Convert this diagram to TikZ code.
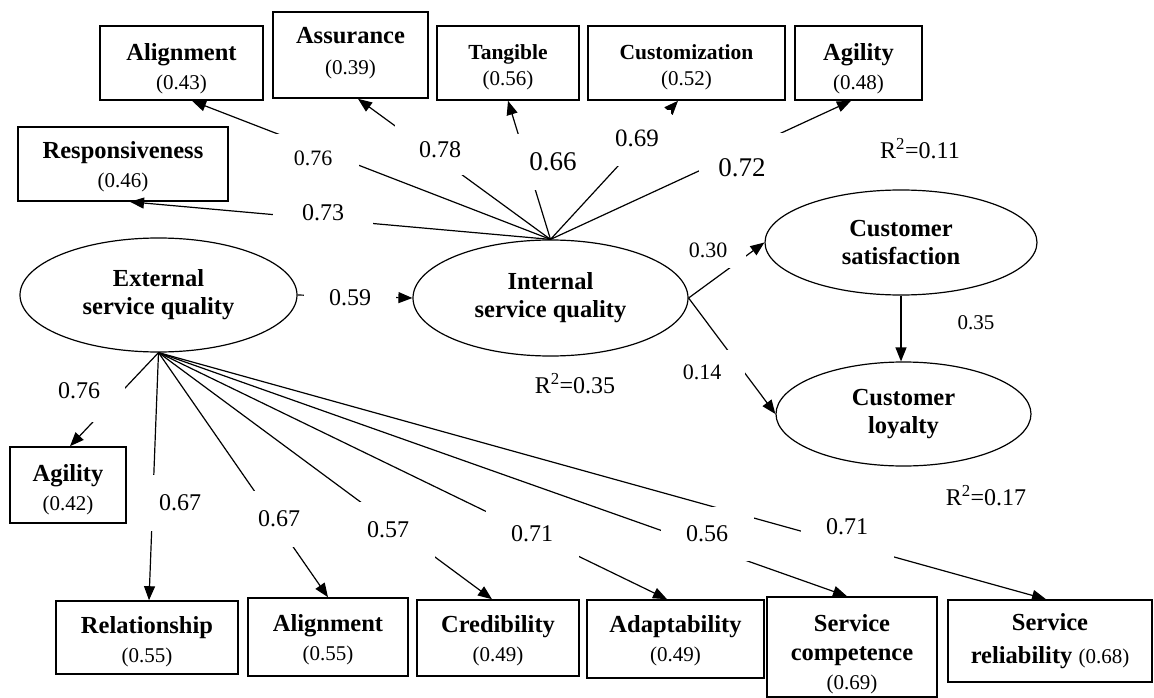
\documentclass[tikz,border=0pt]{standalone}
\usepackage{fontspec}
\setmainfont{Liberation Serif}
\usetikzlibrary{arrows.meta,shapes.geometric}
\newcommand{\pv}[1]{{\fontseries{m}\fontsize{21}{29}\selectfont #1}}
\newcommand{\tp}[1]{\rule{0pt}{#1pt}}
\newcommand{\bt}[1]{\rule[-#1pt]{0pt}{#1pt}}
\begin{document}
\begin{tikzpicture}[x=1pt,y=-1pt,
  ind/.style={draw, line width=1.6pt, inner sep=0pt, align=center, fill=white,
    font=\fontsize{24.5}{29}\selectfont\bfseries},
  indsm/.style={ind, font=\fontsize{21.5}{26}\selectfont\bfseries},
  lat/.style={draw, ellipse, line width=1.2pt, inner sep=0pt, align=center, fill=white,
    font=\fontsize{24.5}{28}\selectfont\bfseries},
  lbl/.style={fill=white, inner sep=0pt, font=\fontsize{24}{28}\selectfont},
  rsq/.style={inner sep=0pt, font=\fontsize{24}{28}\selectfont},
  arr/.style={line width=1.2pt, -{Triangle[length=14pt,width=11pt]}}]
\useasboundingbox (0,0) rectangle (1154,698);
\fill[white] (0,0) rectangle (1154,698);

% latent variables
\node[lat, minimum width=277pt, minimum height=114pt] (ext) at (158.5,295) {External\\service quality};
\node[lat, minimum width=275pt, minimum height=116pt] (int) at (550.5,298) {Internal\\service quality};
\node[lat, minimum width=272pt, minimum height=105pt] (sat) at (901,242.5) {Customer\\satisfaction};
\node[lat, minimum width=255pt, minimum height=104pt] (loy) at (903.5,414) {Customer\\loyalty};

% internal indicators
\node[ind, minimum width=163pt, minimum height=74pt] (alig) at (181.5,63) {\tp{29}Alignment\\\pv{(0.43)}};
\node[ind, minimum width=155pt, minimum height=86pt, font=\fontsize{24.5}{31}\selectfont\bfseries] (assu) at (350.5,55) {Assurance\\\pv{(0.39)}\bt{9}};
\node[indsm, minimum width=142pt, minimum height=74pt] (tang) at (508,63) {\tp{22.6}Tangible\\\pv{(0.56)}};
\node[indsm, minimum width=197pt, minimum height=74pt] (cust) at (686.5,63) {\tp{22.6}Customization\\\pv{(0.52)}};
\node[ind, minimum width=127pt, minimum height=74pt] (agit) at (858.5,63) {\tp{27.6}Agility\\\pv{(0.48)}};
\node[ind, minimum width=210pt, minimum height=74pt] (resp) at (123,164) {\tp{21.6}Responsiveness\\\pv{(0.46)}};

% external indicators
\node[ind, minimum width=116pt, minimum height=76pt] (agib) at (68,485) {\tp{26.6}Agility\\\pv{(0.42)}};
\node[ind, minimum width=182pt, minimum height=73pt] (rela) at (147,637.5) {\tp{24.6}Relationship\\\pv{(0.55)}};
\node[ind, minimum width=160pt, minimum height=78pt] (aligb) at (328,637) {\tp{22.6}Alignment\\\pv{(0.55)}};
\node[ind, minimum width=162pt, minimum height=76pt] (cred) at (498,638) {\tp{22.6}Credibility\\\pv{(0.49)}};
\node[ind, minimum width=177pt, minimum height=78pt] (adap) at (675.5,639) {\tp{20.6}Adaptability\\\pv{(0.49)}};
\node[ind, minimum width=170pt, minimum height=100pt] (scom) at (852,647) {\tp{30.6}Service\\competence\\\pv{(0.69)}};
\node[ind, minimum width=204pt, minimum height=82pt, font=\fontsize{24.5}{33}\selectfont\bfseries] (srel) at (1050,641) {\tp{18}Service\\reliability \pv{(0.68)}};

\coordinate (ih) at (int.north);
\coordinate (eh) at (ext.south);

% connectors: internal service quality
\draw[arr] (ih) -- ([xshift=10.5pt]alig.south);
\draw[arr] (ih) -- ([xshift=7pt]resp.south);
\draw[arr] (ih) -- ([xshift=7.5pt]assu.south);
\draw[arr] (ih) -- (tang.south);
\draw[arr] (ih) -- ([xshift=-8.5pt]cust.south);
\draw[arr] (ih) -- ([xshift=-7.5pt]agit.south);

% structural paths
\draw[arr] (ext.east) -- (int.west);
\draw[arr] (int.east) -- (sat.west);
\draw[arr] (int.east) -- (loy.west);
\draw[arr] (sat.south) -- (sat.south |- loy.north);

% connectors: external service quality
\draw[arr] (eh) -- ([xshift=2pt]agib.north);
\draw[arr] (eh) -- ([xshift=2pt]rela.north);
\draw[arr] (eh) -- (aligb.north);
\draw[arr] (eh) -- ([xshift=-6pt]cred.north);
\draw[arr] (eh) -- ([xshift=-8.5pt]adap.north);
\draw[arr] (eh) -- ([xshift=-5pt]scom.north);
\draw[arr] (eh) -- ([xshift=-4pt]srel.north);

% coefficient labels (white boxes over the lines)
\node[lbl, minimum width=92pt, minimum height=48pt, font=\fontsize{22}{26}\selectfont] (c1) at (313,158) {0.76};
\node[lbl, minimum width=100pt, minimum height=32pt] (c2) at (323,213) {0.73};
\node[lbl, minimum width=90pt, minimum height=50pt] (c3) at (440,150) {0.78};
\node[lbl, minimum width=76pt, minimum height=56pt, font=\fontsize{27}{30}\selectfont] (c4) at (553,162) {0.66};
\node[lbl, minimum width=68pt, minimum height=56pt, font=\fontsize{25}{28}\selectfont] (c5) at (637,138) {0.69};
\node[lbl, minimum width=86pt, minimum height=70pt, font=\fontsize{27}{30}\selectfont] (c6) at (742,168) {0.72};
\node[lbl, minimum width=92pt, minimum height=36pt] (c7) at (350,298) {0.59};
\node[lbl, minimum width=76pt, minimum height=36pt, font=\fontsize{22}{26}\selectfont] (c8) at (708,250) {0.30};
\node[lbl, minimum width=86pt, minimum height=44pt, font=\fontsize{22}{26}\selectfont] (c9) at (702,372) {0.14};
\node[rsq, font=\fontsize{21}{26}\selectfont] (c10) at (976,323) {0.35};
\node[lbl, minimum width=92pt, minimum height=62pt] (d1) at (79,391) {0.76};
\node[lbl, minimum width=93pt, minimum height=56pt] (d2) at (180,503) {0.67};
\node[lbl, minimum width=93pt, minimum height=56pt] (d3) at (279,519) {0.67};
\node[lbl, minimum width=93pt, minimum height=56pt] (d4) at (388,530) {0.57};
\node[lbl, minimum width=93pt, minimum height=50pt] (d5) at (532,534) {0.71};
\node[lbl, minimum width=93pt, minimum height=54pt] (d6) at (707,534) {0.56};
\node[lbl, minimum width=93pt, minimum height=62pt] (d7) at (847,527) {0.71};

% R squared
\node[rsq] (r1) at (920,149) {R\textsuperscript{2}=0.11};
\node[rsq] (r2) at (575,384) {R\textsuperscript{2}=0.35};
\node[rsq] (r3) at (986,496) {R\textsuperscript{2}=0.17};
\end{tikzpicture}
\end{document}
